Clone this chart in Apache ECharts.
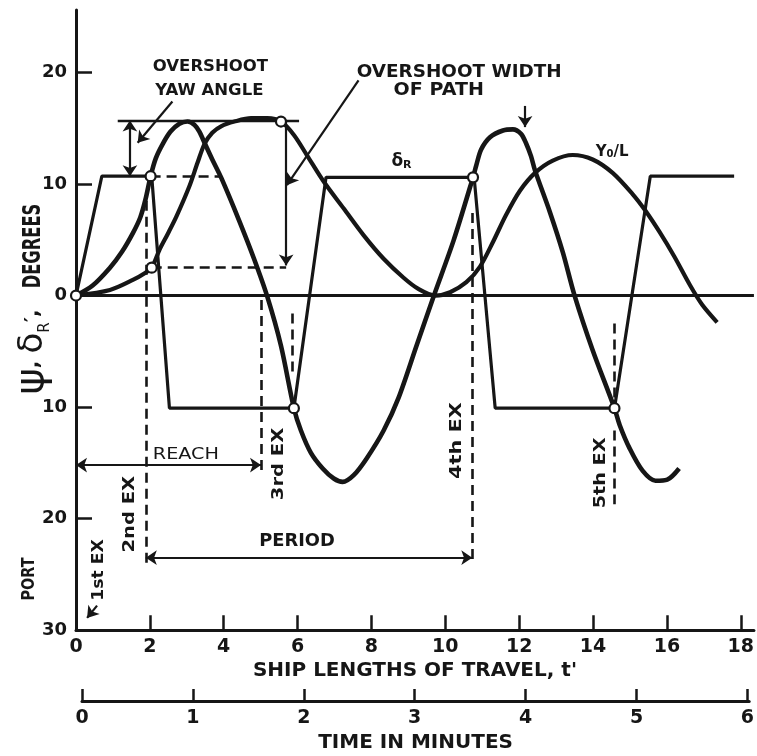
<!DOCTYPE html>
<html>
<head>
<meta charset="utf-8">
<script src="https://cdn.jsdelivr.net/npm/echarts@6/dist/echarts.min.js"></script>
<style>
  html, body { margin: 0; padding: 0; background: #ffffff; }
  #chart { width: 757px; height: 756px; }
</style>
</head>
<body>
<div id="chart"></div>
<script>
// Zig-zag manoeuvre: heading, rudder and path against ship lengths travelled.

// Axis ticks
const lengthTicks = [0, 2, 4, 6, 8, 10, 12, 14, 16, 18];
const degreeTicks = [-30, -20, -10, 0, 10, 20];
const minuteTicks = [0, 1, 2, 3, 4, 5, 6];

// Rudder angle δR (degrees) against ship lengths t'
const rudderT   = [0, 0.70, 2.05, 2.53, 5.90, 6.77, 10.78, 11.35, 14.58, 15.55, 17.82];
const rudderDeg = [0, 10.7, 10.7, -10.1, -10.1, 10.6, 10.6, -10.1, -10.1, 10.7, 10.7];

// Heading ψ (degrees)
const headingT = [0, 0.45, 0.92, 1.24, 1.54, 1.74, 1.88, 2.02, 2.16, 2.35, 2.56, 2.80, 3.02, 3.21, 3.34,
  3.48, 3.69, 3.94, 4.42, 4.82, 5.18, 5.55, 5.90, 6.09, 6.36, 6.68, 6.98, 7.22, 7.52, 7.87, 8.33,
  8.73, 9.22, 9.68, 10.22, 10.75, 10.84, 10.97, 11.21, 11.56, 11.83, 12.05, 12.18, 12.32, 12.43,
  12.83, 13.18, 13.50, 13.99, 14.58, 14.72, 14.99, 15.34, 15.69, 16.01, 16.33];
const headingDeg = [0, 0.9, 2.5, 3.9, 5.6, 7.0, 8.6, 10.7, 12.3, 13.6, 14.7, 15.4, 15.6, 15.3, 14.7,
  13.7, 12.2, 10.5, 6.7, 3.3, -0.1, -4.5, -10.1, -12.1, -14.1, -15.5, -16.4, -16.7, -16.1, -14.6, -12.1,
  -9.2, -4.5, -0.1, 4.9, 10.6, 11.7, 13.1, 14.2, 14.8, 14.9, 14.5, 13.7, 12.5, 11.2,
  7.5, 3.9, 0.0, -4.9, -10.1, -11.6, -13.7, -15.7, -16.6, -16.5, -15.5];

// Lateral path y0/L
const pathT = [0, 0.92, 1.54, 1.86, 2.05, 2.26, 2.48, 2.72, 3.07, 3.29, 3.48, 3.69, 3.94, 4.29, 4.74,
  5.18, 5.55, 5.90, 6.25, 6.71, 7.25, 7.79, 8.33, 8.87, 9.27, 9.73, 10.13, 10.57, 10.94, 11.29,
  11.64, 12.02, 12.43, 12.91, 13.45, 13.99, 14.53, 15.07, 15.42, 15.80, 16.20, 16.63, 16.95, 17.36];
const pathVal = [0, 0.5, 1.4, 2.0, 2.5, 4.1, 5.5, 7.1, 9.8, 11.9, 13.6, 14.6, 15.2, 15.6, 15.9,
  15.9, 15.6, 14.4, 12.6, 10.2, 7.8, 5.4, 3.3, 1.6, 0.6, 0.0, 0.3, 1.2, 2.6, 4.8,
  7.2, 9.4, 11.0, 12.1, 12.6, 12.2, 11.0, 9.1, 7.6, 5.7, 3.5, 0.9, -0.8, -2.4];

// Marked points (open circles)
const markT   = [0, 2.02, 2.05, 5.55, 5.90, 10.75, 14.58];
const markDeg = [0, 10.7, 2.5, 15.6, -10.1, 10.6, -10.1];

// Construction lines, each [t1, deg1, t2, deg2]
const dashedSegs = [
  [1.89, 8.5, 1.89, -24.0],
  [5.01, -0.4, 5.01, -16.0],
  [5.85, -1.6, 5.85, -7.1],
  [10.73, 7.4, 10.73, -23.7],
  [14.58, -2.5, 14.58, -9.2],
  [14.58, -12.1, 14.58, -18.7],
  [2.02, 10.7, 3.88, 10.7],
  [2.05, 2.5, 5.69, 2.5]
];
const levelSegs = [[1.13, 15.7, 6.04, 15.7]];
const doubleArrows = [
  [1.46, 15.7, 1.46, 10.7],
  [0, -15.2, 5.01, -15.2],
  [1.89, -23.5, 10.73, -23.5]
];
const pointerArrows = [
  [5.69, 15.7, 5.69, 2.7],
  [2.61, 17.4, 1.67, 13.7],
  [7.65, 19.3, 5.71, 9.9],
  [12.16, 17.0, 12.16, 15.1],
  [0.57, -27.8, 0.30, -28.9]
];

const xMax = 18.356, yMin = -30, yMax = 25.6, minuteMax = 6.016;
const INK = '#161616';
const FONT = '"DejaVu Sans", sans-serif';

const pairs = (ts, vs) => ts.map((t, i) => [t, vs[i]]);
const segData = (segs, startSym, endSym) => segs.map(s => [
  { coord: [s[0], s[1]], symbol: startSym },
  { coord: [s[2], s[3]], symbol: endSym }
]);
const guideSeries = (name, segs, startSym, endSym, style) => ({
  name, type: 'line', data: [], silent: true, z: 2,
  markLine: {
    silent: true, animation: false, symbolSize: 11,
    label: { show: false }, emphasis: { disabled: true },
    lineStyle: Object.assign({ color: INK, width: 2.4, type: 'solid' }, style),
    data: segData(segs, startSym, endSym)
  }
});

const chart = echarts.init(document.getElementById('chart'));
const boldLabel = (size) => ({ color: INK, fontFamily: FONT, fontWeight: 'bold', fontSize: size });

chart.setOption({
  backgroundColor: '#ffffff',
  animation: false,
  grid: [
    { left: 76, right: 0, top: 10, bottom: 125.8 },
    { left: 82, right: 0, top: 690, height: 11 }
  ],
  xAxis: [
    {
      type: 'value', gridIndex: 0, min: 0, max: xMax,
      axisLine: { onZero: false, lineStyle: { color: INK, width: 3 } },
      axisTick: { inside: true, length: 15, customValues: lengthTicks.slice(1), lineStyle: { color: INK, width: 2.5 } },
      axisLabel: Object.assign({ customValues: lengthTicks, margin: 7 }, boldLabel(19)),
      splitLine: { show: false },
      name: "SHIP LENGTHS OF TRAVEL, t'", nameLocation: 'middle', nameGap: 27,
      nameTextStyle: boldLabel(20)
    },
    {
      type: 'value', gridIndex: 1, min: 0, max: minuteMax,
      axisLine: { onZero: false, lineStyle: { color: INK, width: 3 } },
      axisTick: { inside: true, length: 12, customValues: minuteTicks, lineStyle: { color: INK, width: 2.5 } },
      axisLabel: Object.assign({ customValues: minuteTicks, margin: 8 }, boldLabel(19)),
      splitLine: { show: false },
      name: 'TIME IN MINUTES', nameLocation: 'middle', nameGap: 32,
      nameTextStyle: boldLabel(20)
    }
  ],
  yAxis: [
    {
      type: 'value', gridIndex: 0, min: yMin, max: yMax,
      axisLine: { onZero: false, lineStyle: { color: INK, width: 3 } },
      axisTick: { inside: true, length: 16, customValues: [-20, -10, 10, 20], lineStyle: { color: INK, width: 2.5 } },
      axisLabel: Object.assign({ customValues: degreeTicks, margin: 9, formatter: v => String(Math.abs(v)) }, boldLabel(18)),
      splitLine: { show: false }
    },
    { type: 'value', gridIndex: 1, min: 0, max: 1, show: false }
  ],
  series: [
    {
      name: 'baseline', type: 'line', data: [], silent: true, z: 2,
      markLine: {
        silent: true, animation: false, symbol: ['none', 'none'], label: { show: false },
        lineStyle: { color: INK, width: 3, type: 'solid' },
        data: [{ yAxis: 0 }]
      }
    },
    guideSeries('dashed', dashedSegs, 'none', 'none', { type: [10, 6], width: 2.6 }),
    guideSeries('level', levelSegs, 'none', 'none', { width: 2.4 }),
    guideSeries('dimensions', doubleArrows, 'arrow', 'arrow', { width: 2.2 }),
    guideSeries('pointers', pointerArrows, 'none', 'arrow', { width: 2.2 }),
    {
      name: 'δR', type: 'line', data: pairs(rudderT, rudderDeg), symbol: 'none', z: 3,
      lineStyle: { color: INK, width: 3.2 }
    },
    {
      name: 'ψ', type: 'line', data: pairs(headingT, headingDeg), symbol: 'none', smooth: 0.3, z: 3,
      lineStyle: { color: INK, width: 4.6 }
    },
    {
      name: 'y0/L', type: 'line', data: pairs(pathT, pathVal), symbol: 'none', smooth: 0.3, z: 3,
      lineStyle: { color: INK, width: 4.2 }
    },
    {
      name: 'marks', type: 'scatter', data: pairs(markT, markDeg), symbol: 'circle', symbolSize: 10, z: 6,
      itemStyle: { color: '#ffffff', borderColor: INK, borderWidth: 2.2, opacity: 1 }
    }
  ]
});

// Annotation texts anchored in chart units
const notes = [
  { text: 'OVERSHOOT', at: [3.64, 20.55], align: 'center', size: 16.5, sx: 1.0 },
  { text: 'YAW ANGLE', at: [3.61, 18.4], align: 'center', size: 16.5, sx: 1.0 },
  { text: 'OVERSHOOT WIDTH', at: [7.60, 20.0], align: 'left', size: 17, sx: 1.08 },
  { text: 'OF PATH', at: [8.60, 18.4], align: 'left', size: 17, sx: 1.12 },
  { text: 'REACH', at: [2.08, -14.3], align: 'left', size: 16, sx: 1.2, weight: 'normal' },
  { text: 'PERIOD', at: [4.96, -22.1], align: 'left', size: 17, sx: 1.05 },
  { text: '1st EX', at: [0.62, -24.6], align: 'center', size: 15, sx: 1.15, rot: true },
  { text: '2nd EX', at: [1.46, -19.6], align: 'center', size: 16, sx: 1.22, rot: true },
  { text: '3rd EX', at: [5.50, -15.1], align: 'center', size: 16, sx: 1.22, rot: true },
  { text: '4th EX', at: [10.32, -13.0], align: 'center', size: 16, sx: 1.3, rot: true },
  { text: '5th EX', at: [14.20, -15.9], align: 'center', size: 16, sx: 1.2, rot: true },
  { text: '{a|δ}{s|R}', at: [8.54, 12.0], align: 'left', size: 17, sx: 1.0,
    rich: { a: { fontSize: 17, fontWeight: 'bold', fontFamily: FONT, fill: INK },
            s: { fontSize: 11, fontWeight: 'bold', fontFamily: FONT, fill: INK, verticalAlign: 'bottom' } } },
  { text: '{a|Y}{s|0}{a|/L}', at: [14.07, 12.9], align: 'left', size: 15, sx: 1.0,
    rich: { a: { fontSize: 15, fontWeight: 'bold', fontFamily: FONT, fill: INK },
            s: { fontSize: 10, fontWeight: 'bold', fontFamily: FONT, fill: INK, verticalAlign: 'bottom' } } }
];

const graphics = notes.map(n => {
  const p = chart.convertToPixel({ xAxisIndex: 0, yAxisIndex: 0 }, n.at);
  const style = {
    text: n.text, fill: INK,
    font: (n.weight || 'bold') + ' ' + n.size + 'px ' + FONT,
    align: n.align, verticalAlign: 'middle'
  };
  if (n.rich) style.rich = n.rich;
  return {
    type: 'text', x: p[0], y: p[1], rotation: n.rot ? Math.PI / 2 : 0,
    scaleX: n.sx, scaleY: 1, silent: true, z: 10, style
  };
});

// Vertical axis title
graphics.push(
  { type: 'text', x: 34, y: 246, rotation: Math.PI / 2, scaleX: 0.68, silent: true, z: 10,
    style: { text: 'DEGREES', fill: INK, font: 'bold 24px ' + FONT, align: 'center', verticalAlign: 'middle' } },
  { type: 'text', x: 33, y: 352, rotation: Math.PI / 2, silent: true, z: 10,
    style: {
      text: '{p|ψ}{c|, }{d|δ}{s|R}{c|′,}', fill: INK, align: 'center', verticalAlign: 'middle',
      rich: {
        p: { fontSize: 40, fontFamily: FONT, fill: INK },
        c: { fontSize: 20, fontWeight: 'bold', fontFamily: FONT, fill: INK },
        d: { fontSize: 34, fontFamily: FONT, fill: INK },
        s: { fontSize: 15, fontFamily: FONT, fill: INK, verticalAlign: 'bottom' }
      }
    } },
  { type: 'text', x: 29, y: 579, rotation: Math.PI / 2, scaleX: 0.8, silent: true, z: 10,
    style: { text: 'PORT', fill: INK, font: 'bold 18px ' + FONT, align: 'center', verticalAlign: 'middle' } }
);

chart.setOption({ graphic: graphics });
</script>
</body>
</html>
